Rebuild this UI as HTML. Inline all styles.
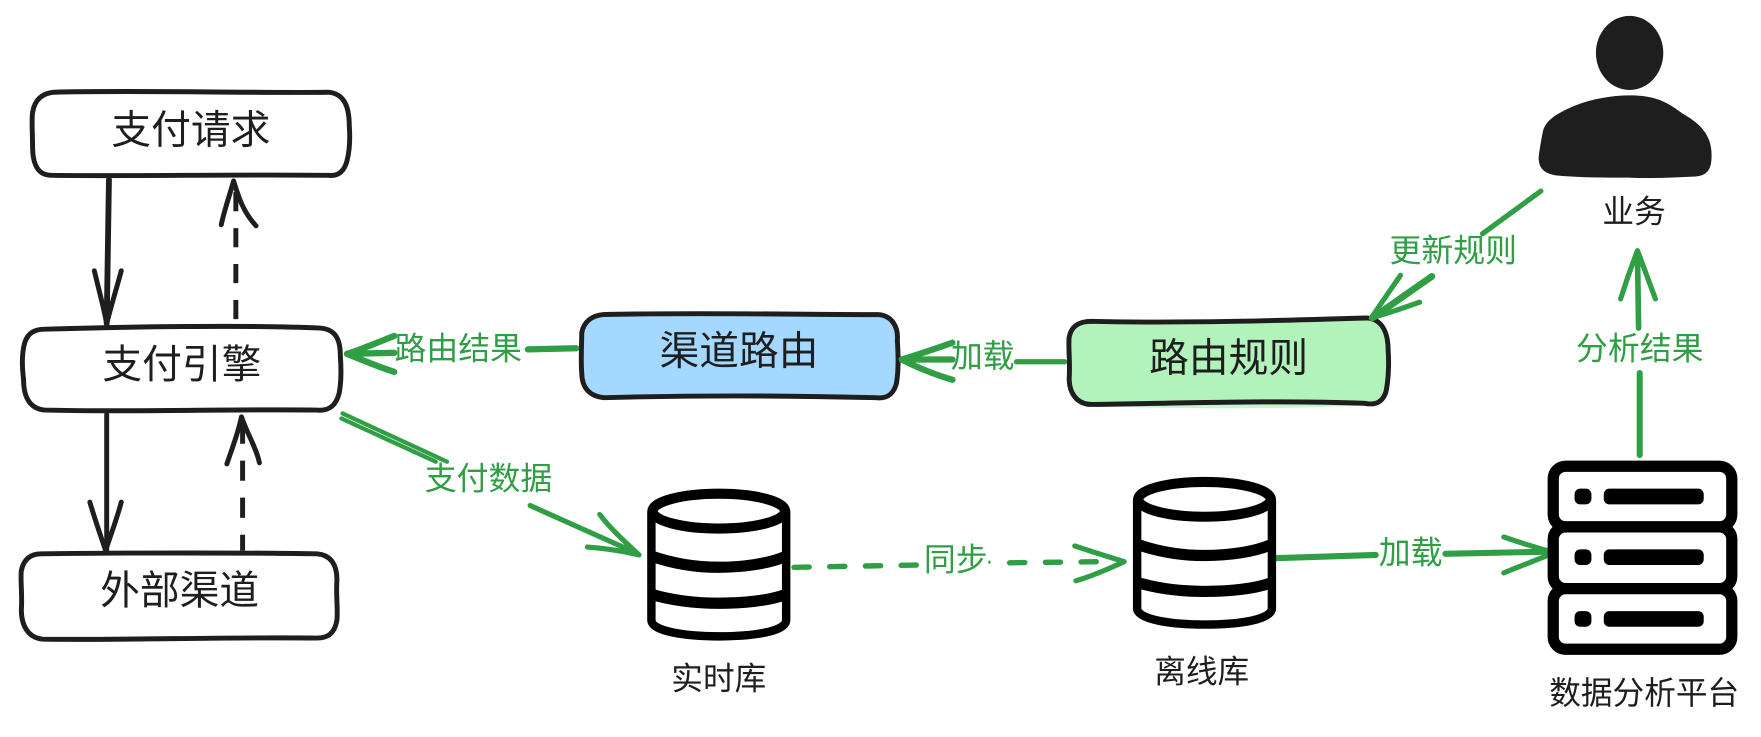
<!DOCTYPE html>
<html lang="zh">
<head>
<meta charset="utf-8">
<title>支付路由</title>
<style>
html,body{margin:0;padding:0;background:#fff;width:1761px;height:737px;overflow:hidden}
svg{display:block}
text{font-family:"Liberation Sans","Noto Sans CJK SC",sans-serif;text-anchor:middle;dominant-baseline:central}
.b{fill:#1e1e1e;font-size:28.2px}
.t{fill:#1e1e1e;font-size:35.4px}
.g{fill:#2f9e44;font-size:28.4px}
.box{stroke:#1e1e1e;stroke-width:4.4;fill:#fff;stroke-linecap:round;stroke-linejoin:round}
.k{stroke:#1e1e1e;stroke-width:4.4;fill:none;stroke-linecap:round;stroke-linejoin:round}
.kd{stroke:#1e1e1e;stroke-width:4.4;fill:none;stroke-linecap:butt;stroke-dasharray:17 15}
.gr{stroke:#2f9e44;stroke-width:4.6;fill:none;stroke-linecap:round;stroke-linejoin:round}
.gd{stroke:#2f9e44;stroke-width:4.8;fill:none;stroke-linecap:round;stroke-dasharray:13.5 18.3}
.cl{stroke:#000;stroke-width:10;fill:none}
</style>
</head>
<body>
<svg width="1761" height="737" viewBox="0 0 1568 656" xmlns="http://www.w3.org/2000/svg">
<rect x="0" y="0" width="1568" height="656" fill="#fff"/>

<!-- boxes -->
<path class="box" d="M48 82 C120 80 230 83 292 82 C306 83 311 94 311 112 C312 125 311 135 309 143 C306 154 300 157 292 156 C210 155 120 157 46 156 C34 156 29 147 29 130 C29 118 28 108 29 100 C31 88 38 83 48 82 Z"/>
<text class="t" x="170" y="116">支付请求</text>

<path class="box" d="M40 293 C110 291 220 289 285 292 C298 293 303 301 303 316 C304 330 304 340 302 350 C299 362 292 366 282 365 C200 364 110 367 40 365 C27 364 21 354 21 338 C19 322 20 312 22 305 C25 296 31 293 40 293 Z"/>
<text class="t" x="162" y="325">支付引擎</text>

<path class="box" d="M37 493 C110 492 220 492 282 493 C295 494 300 503 300 516 C299 530 301 542 300 552 C298 564 292 568 282 568 C200 567 110 570 38 569 C26 568 19 558 19 543 C20 530 18 515 19 508 C21 498 27 493 37 493 Z"/>
<text class="t" x="160" y="526">外部渠道</text>

<path class="box" style="fill:#a5d8ff" d="M537 280 C610 278 710 280 782 280 C795 281 800 292 799 303 C800 318 800 332 798 342 C795 352 789 355 780 354 C700 352 610 352 538 354 C525 353 518 345 518 332 C517 320 518 305 518 296 C520 286 527 281 537 280 Z"/>
<text class="t" x="658" y="313">渠道路由</text>

<path fill="#b2f2bb" d="M985 362 C1060 364 1150 364 1215 361 L1215 350 L985 350 Z" opacity=".75"/>
<path class="box" style="fill:#b2f2bb" d="M972 286 C1050 288 1150 285 1217 283 C1230 284 1236 295 1236 312 C1237 325 1236 340 1234 349 C1231 358 1225 361 1215 359 C1140 356 1050 359 972 360 C959 360 952 350 952 337 C953 322 951 308 952 300 C954 290 961 286 972 286 Z"/>
<text class="t" x="1094" y="319">路由规则</text>

<!-- black connectors -->
<path class="k" style="stroke-width:5.2" d="M97 160 L95 288"/>
<path class="k" d="M84 241 C88 258 92 272 95 288 C99 272 104 256 108 241"/>
<path class="kd" d="M210 171 L210 284"/>
<path class="k" d="M197 200 C200 186 205 172 208 161 C212 174 216 188 228 201"/>

<path class="k" d="M95 369 L95 490"/>
<path class="k" d="M80 447 C85 464 90 478 94 490 C98 478 104 462 108 447"/>
<path class="kd" d="M216 377 L216 490" style="stroke-dasharray:18 15"/>
<path class="k" d="M202 413 C207 398 212 386 215 371 C220 386 228 398 231 412"/>

<!-- green connectors -->
<path class="gr" style="stroke-width:5.6" d="M513 310 L470 311"/>
<text class="g" x="408" y="310">路由结果</text>
<path class="gr" style="stroke-width:5.6" d="M351 299 C338 304 322 311 309 315 C322 320 338 327 351 331"/>
<path class="gr" style="stroke-width:5.6" d="M309 315 L351 314"/>

<path class="gr" d="M948 322 L905 322"/>
<text class="g" x="875" y="317">加载</text>
<path class="gr" style="stroke-width:5.6" d="M848 305 C834 310 816 316 803 320 C816 327 834 334 848 338"/>
<path class="gr" style="stroke-width:5.6" d="M803 320 L848 320"/>

<path class="gr" d="M1372 170 L1320 208"/>
<text class="g" x="1294" y="223">更新规则</text>
<path class="gr" style="stroke-width:6" d="M1275 246 L1222 283"/>
<path class="gr" d="M1247 245 C1238 258 1229 271 1221 283 C1235 279 1250 274 1264 269"/>

<path class="gr" style="stroke-width:5.4" d="M1460 405 L1460 332"/>
<text class="g" x="1460" y="310">分析结果</text>
<path class="gr" style="stroke-width:5" d="M1459 292 L1458 224"/>
<path class="gr" d="M1443 266 C1448 250 1453 236 1458 223 C1463 236 1468 250 1474 266"/>

<path class="gr" style="stroke-width:5.4" d="M1132 497 L1225 494"/>
<text class="g" x="1256" y="492">加载</text>
<path class="gr" style="stroke-width:5.4" d="M1287 493 L1382 491"/>
<path class="gr" d="M1339 478 C1353 483 1370 488 1384 492 C1370 498 1353 504 1339 510"/>

<path class="gd" d="M707 505 L818 503"/>
<text class="g" x="851" y="498">同步</text>
<path class="gr" style="stroke-width:2" d="M881 500 L881 501"/>
<path class="gd" d="M899 501 L979 500"/>
<path class="gr" d="M957 486 C972 491 988 496 1001 500 C988 506 972 513 958 517"/>

<path class="gr" style="stroke-width:3.8" d="M305 368 L398 411"/>
<path class="gr" style="stroke-width:3.8" d="M304 372.5 L388 411"/>
<text class="g" x="435" y="426">支付数据</text>
<path class="gr" d="M472 450 L568 493"/>
<path class="gr" d="M534 458 C543 470 556 482 569 494 C552 490 538 488 523 487"/>

<!-- database 1 -->
<g>
<path fill="#fff" stroke="#000" stroke-width="7.5" stroke-linejoin="round" d="M580 456 C580 445 610 441 640 441 C672 441 700 445 700 456 L700 552 C700 562 672 566.5 640 566.5 C610 566.5 580 562 580 552 Z"/>
<ellipse cx="640" cy="455" rx="59" ry="15.5" fill="#fff" stroke="#000" stroke-width="9"/>
<path class="cl" d="M580 495 C600 502 620 505 640 505 C660 505 685 502 700 495"/>
<path class="cl" d="M580 529 C600 535 620 537 640 537 C660 537 685 535 700 529"/>
</g>
<text class="b" x="640" y="604">实时库</text>

<!-- database 2 -->
<g transform="translate(432.5 -10.5)">
<path fill="#fff" stroke="#000" stroke-width="7.5" stroke-linejoin="round" d="M580 456 C580 445 610 441 640 441 C672 441 700 445 700 456 L700 552 C700 562 672 566.5 640 566.5 C610 566.5 580 562 580 552 Z"/>
<ellipse cx="640" cy="455" rx="59" ry="15.5" fill="#fff" stroke="#000" stroke-width="9"/>
<path class="cl" d="M580 495 C600 502 620 505 640 505 C660 505 685 502 700 495"/>
<path class="cl" d="M580 529 C600 535 620 537 640 537 C660 537 685 535 700 529"/>
</g>
<text class="b" x="1070" y="598">离线库</text>

<!-- server -->
<g fill="#fff" stroke="#000" stroke-width="10">
<rect x="1383" y="415" width="159" height="54" rx="11"/>
<rect x="1383" y="469" width="159" height="55" rx="11"/>
<rect x="1383" y="524" width="159" height="54" rx="11"/>
</g>
<g fill="#000">
<rect x="1402" y="435" width="15" height="14" rx="5"/>
<rect x="1428" y="435" width="89" height="14" rx="5"/>
<rect x="1402" y="489" width="15" height="14" rx="5"/>
<rect x="1428" y="489" width="89" height="14" rx="5"/>
<rect x="1402" y="544" width="15" height="14" rx="5"/>
<rect x="1428" y="544" width="89" height="14" rx="5"/>
</g>
<text class="b" x="1464" y="617">数据分析平台</text>

<!-- person -->
<ellipse cx="1451" cy="47" rx="30" ry="33" fill="#1e1e1e"/>
<path fill="#1e1e1e" d="M1374 116 C1377 106 1388 100 1402 94 C1420 87 1440 84 1458 85 C1476 86 1486 92 1498 101 C1514 110 1524 120 1524 138 C1524 150 1521 156 1510 157 C1490 158 1470 159 1450 158 C1430 158 1405 158 1385 156 C1375 154 1370 150 1370 140 C1371 132 1372 126 1374 116 Z"/>
<text class="b" x="1455" y="188">业务</text>
</svg>
</body>
</html>
